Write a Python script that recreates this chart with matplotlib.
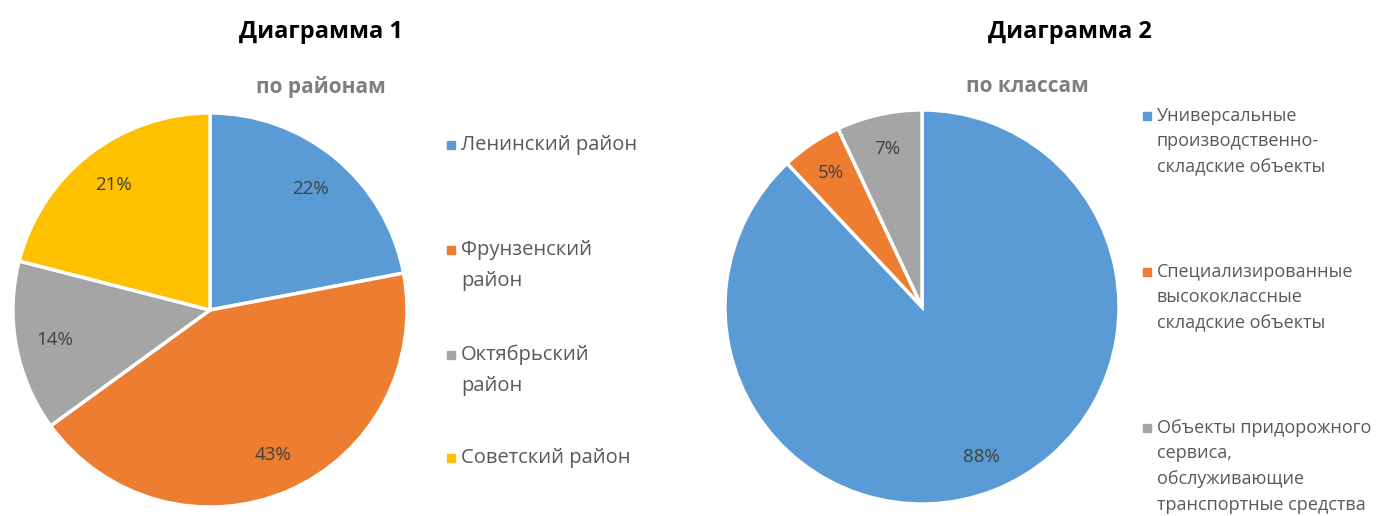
import matplotlib
matplotlib.use('Agg')
import matplotlib.pyplot as plt
from matplotlib.patches import Rectangle

plt.rcParams['font.family'] = ['Open Sans', 'DejaVu Sans']

# Diagram 1: by districts
districts = ['Ленинский район', 'Фрунзенский\nрайон', 'Октябрьский\nрайон', 'Советский район']
district_share = [22, 43, 14, 21]
district_colors = ['#5B9BD5', '#ED7D31', '#A5A5A5', '#FFC000']

# Diagram 2: by classes
classes = ['Универсальные\nпроизводственно-\nскладские объекты',
           'Специализированные\nвысококлассные\nскладские объекты',
           'Объекты придорожного\nсервиса,\nобслуживающие\nтранспортные средства']
class_share = [88, 5, 7]
class_colors = ['#5B9BD5', '#ED7D31', '#A5A5A5']

W, H = 1381, 516
fig = plt.figure(figsize=(W / 100, H / 100), dpi=100)


def px_axes(cx, cy, r):
    return fig.add_axes([(cx - r) / W, (H - cy - r) / H, 2 * r / W, 2 * r / H])


def draw_pie(ax, values, colors, pctdist):
    wedges, texts, autotexts = ax.pie(
        values, colors=colors, startangle=90, counterclock=False,
        autopct='%d%%', pctdistance=pctdist,
        wedgeprops=dict(edgecolor='white', linewidth=2.5),
        textprops=dict(color='#404040', fontsize=13.5))
    ax.set_xlim(-1.02, 1.02)
    ax.set_ylim(-1.02, 1.02)
    ax.set_aspect('equal')
    ax.axis('off')


ax1 = px_axes(210, 310, 201)
draw_pie(ax1, district_share, district_colors, 0.8)

ax2 = px_axes(922, 307, 201)
draw_pie(ax2, class_share, class_colors, 0.82)

# titles
fig.text(321 / W, 1 - 32 / H, 'Диаграмма 1', ha='center', va='center',
         fontsize=17, fontweight='bold', color='black')
fig.text(321 / W, 1 - 87 / H, 'по районам', ha='center', va='center',
         fontsize=15, fontweight='bold', color='#7F7F7F')
fig.text(1070 / W, 1 - 32 / H, 'Диаграмма 2', ha='center', va='center',
         fontsize=17, fontweight='bold', color='black')
fig.text(1027 / W, 1 - 87 / H, 'по классам', ha='center', va='center',
         fontsize=15, fontweight='bold', color='#7F7F7F')


def legend_entry(x, y, label, color, fs, spacing):
    fig.patches.append(Rectangle(((x - 4) / W, 1 - (y + 4) / H), 8 / W, 8 / H,
                                 transform=fig.transFigure, color=color))
    for i, line in enumerate(label.split('\n')):
        fig.text((x + 10) / W, 1 - (y + i * spacing) / H, line, ha='left',
                 va='center', fontsize=fs, color='#595959')


left_y = [145, 250, 355, 458]
for lbl, col, y in zip(districts, district_colors, left_y):
    legend_entry(451, y, lbl, col, 14.5, 31)

right_y = [116, 272, 428]
for lbl, col, y in zip(classes, class_colors, right_y):
    legend_entry(1147, y, lbl, col, 13, 25.5)

fig.savefig('out.png', dpi=100)
